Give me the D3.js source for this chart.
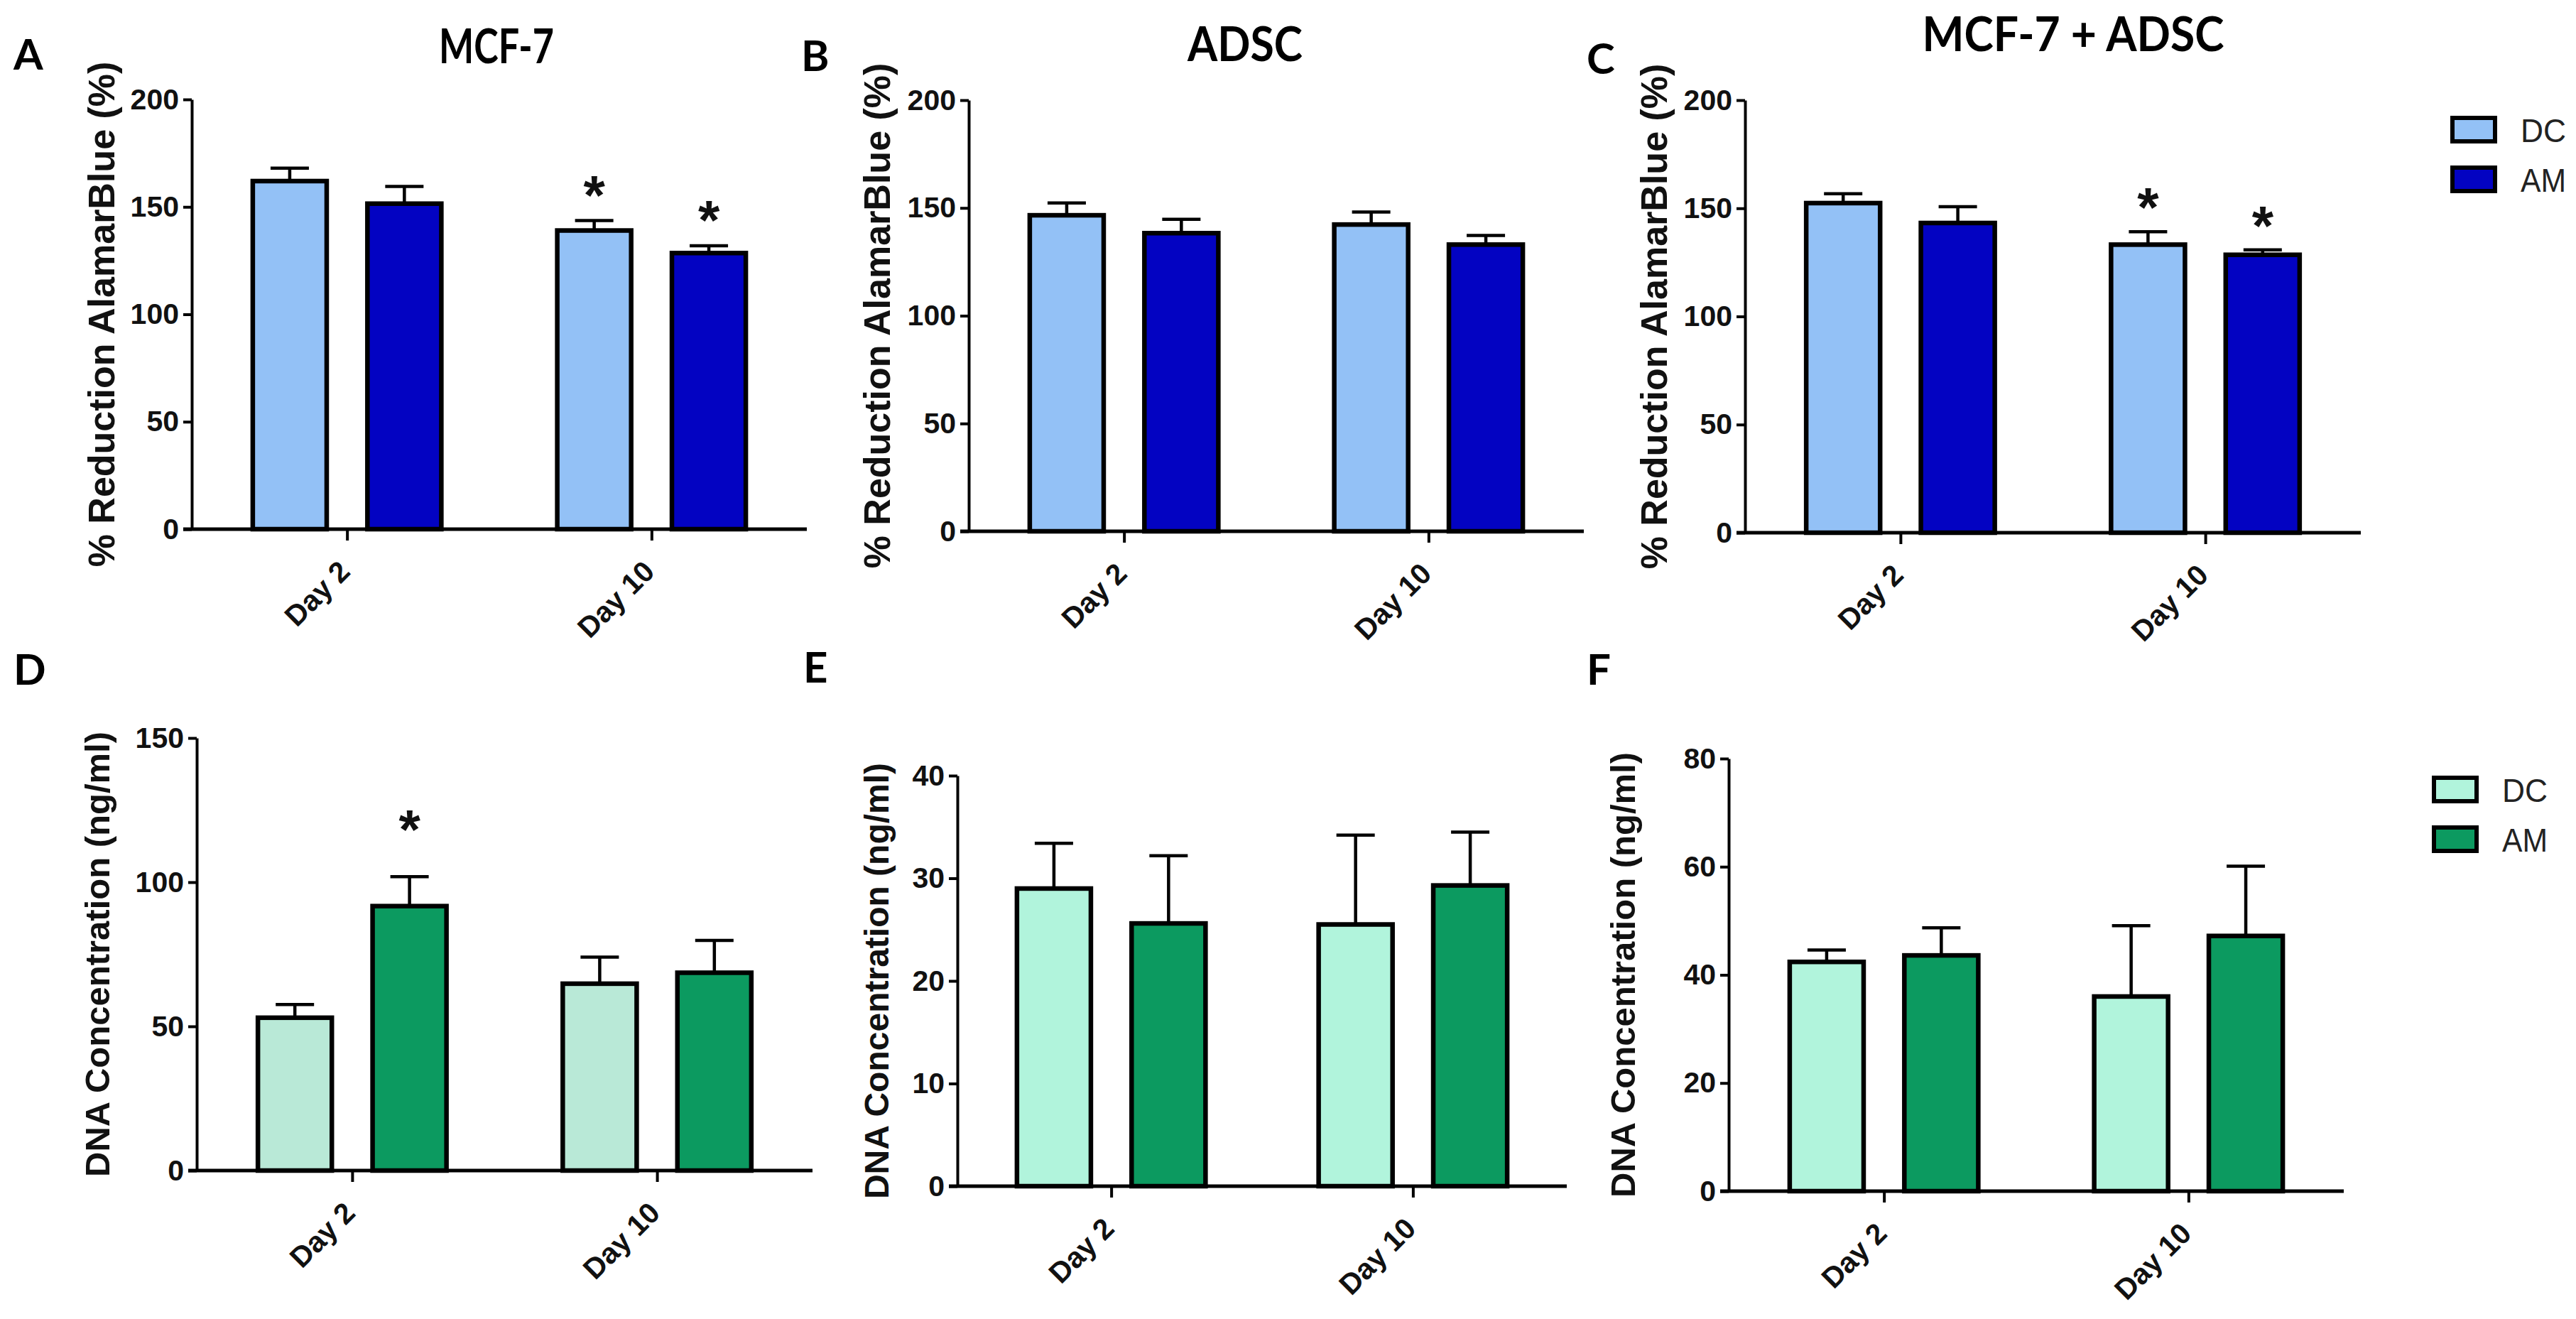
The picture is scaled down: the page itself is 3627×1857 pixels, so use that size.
<!DOCTYPE html>
<html>
<head>
<meta charset="utf-8">
<script src="https://cdn.jsdelivr.net/npm/d3@7"></script>
<style>
  html, body { margin: 0; padding: 0; background: #ffffff; }
  svg { display: block; }
</style>
</head>
<body>
<svg id="chart" width="3627" height="1857"></svg>
<script>
// ---------------- DATA ----------------
const days = ["Day 2", "Day 10"];
const groups = ["DC", "AM"];

// Panel A: MCF-7, % Reduction AlamarBlue
const mcf7AlamarDC = [162, 139];
const mcf7AlamarDCerr = [6, 4.6];
const mcf7AlamarAM = [151.5, 128.5];
const mcf7AlamarAMerr = [8, 3.4];

// Panel B: ADSC
const adscAlamarDC = [146.6, 142.3];
const adscAlamarDCerr = [5.7, 5.8];
const adscAlamarAM = [138.3, 133];
const adscAlamarAMerr = [6.4, 4.2];

// Panel C: MCF-7 + ADSC
const coAlamarDC = [152.4, 133.2];
const coAlamarDCerr = [4.3, 6.0];
const coAlamarAM = [143.2, 128.5];
const coAlamarAMerr = [7.5, 2.3];

// Panel D: MCF-7, DNA concentration (ng/ml)
const mcf7DnaDC = [53, 64.8];
const mcf7DnaDCerr = [4.6, 9.2];
const mcf7DnaAM = [91.7, 68.6];
const mcf7DnaAMerr = [10.2, 11.2];

// Panel E: ADSC
const adscDnaDC = [29.0, 25.5];
const adscDnaDCerr = [4.4, 8.7];
const adscDnaAM = [25.6, 29.3];
const adscDnaAMerr = [6.6, 5.2];

// Panel F: MCF-7 + ADSC
const coDnaDC = [42.4, 36.0];
const coDnaDCerr = [2.2, 13.1];
const coDnaAM = [43.6, 47.2];
const coDnaAMerr = [5.1, 12.9];

// Tick labels
const alamarTicks = [0, 50, 100, 150, 200];
const mcf7DnaTicks = [0, 50, 100, 150];
const adscDnaTicks = [0, 10, 20, 30, 40];
const coDnaTicks = [0, 20, 40, 60, 80];

// Significance markers: [day index, group]
const mcf7AlamarStars = [[1, "DC"], [1, "AM"]];
const coAlamarStars = [[1, "DC"], [1, "AM"]];
const mcf7DnaStars = [[0, "AM"]];

// Text
const titles = ["MCF-7", "ADSC", "MCF-7 + ADSC"];
const alamarLabel = "% Reduction AlamarBlue (%)";
const dnaLabel = "DNA Concentration (ng/ml)";

// ---------------- STYLE / LAYOUT ----------------
const blueColors = { DC: "#93c1f6", AM: "#0303c2" };
const greenColors = { DC: "#b1f4dc", AM: "#0c9a60" };
const greenColorsD = { DC: "#b9e9d7", AM: "#0c9a60" };

const svg = d3.select("#chart");
const LABEL_FONT = "'Liberation Sans', Arial, Helvetica, sans-serif";
const TITLE_FONT = "Lato, 'Open Sans', sans-serif";

const panels = [
  { letter: "A", lx: 19, ly: 98, title: titles[0], tx: 699, ty: 89, tlen: 162,
    x0: 270, x1: 1136, yb: 745, yt: 140, max: 200, ticks: alamarTicks,
    ylabel: alamarLabel, ylx: 142, ylfs: 52, colors: blueColors,
    dc: mcf7AlamarDC, dce: mcf7AlamarDCerr, am: mcf7AlamarAM, ame: mcf7AlamarAMerr,
    stars: mcf7AlamarStars, starOff: 52 },
  { letter: "B", lx: 1128, ly: 100, title: titles[1], tx: 1753, ty: 86, tlen: 162,
    x0: 1364, x1: 2230, yb: 748, yt: 141, max: 200, ticks: alamarTicks,
    ylabel: alamarLabel, ylx: 1234, ylfs: 52, colors: blueColors,
    dc: adscAlamarDC, dce: adscAlamarDCerr, am: adscAlamarAM, ame: adscAlamarAMerr,
    stars: [], starOff: 52 },
  { letter: "C", lx: 2234, ly: 104, title: titles[2], tx: 2919, ty: 72, tlen: 425,
    x0: 2457, x1: 3324, yb: 750, yt: 141, max: 200, ticks: alamarTicks,
    ylabel: alamarLabel, ylx: 2328, ylfs: 52, colors: blueColors,
    dc: coAlamarDC, dce: coAlamarDCerr, am: coAlamarAM, ame: coAlamarAMerr,
    stars: coAlamarStars, starOff: 50 },
  { letter: "D", lx: 19, ly: 964, title: null,
    x0: 277, x1: 1144, yb: 1648, yt: 1039, max: 150, ticks: mcf7DnaTicks,
    ylabel: dnaLabel, ylx: 136, ylfs: 49, colors: greenColorsD,
    dc: mcf7DnaDC, dce: mcf7DnaDCerr, am: mcf7DnaAM, ame: mcf7DnaAMerr,
    stars: mcf7DnaStars, starOff: 82 },
  { letter: "E", lx: 1131, ly: 961, title: null,
    x0: 1348, x1: 2206, yb: 1670, yt: 1092, max: 40, ticks: adscDnaTicks,
    ylabel: dnaLabel, ylx: 1234, ylfs: 48, colors: greenColors,
    dc: adscDnaDC, dce: adscDnaDCerr, am: adscDnaAM, ame: adscDnaAMerr,
    stars: [], starOff: 60 },
  { letter: "F", lx: 2234, ly: 964, title: null,
    x0: 2434, x1: 3300, yb: 1677, yt: 1068, max: 80, ticks: coDnaTicks,
    ylabel: dnaLabel, ylx: 2284, ylfs: 49, colors: greenColors,
    dc: coDnaDC, dce: coDnaDCerr, am: coDnaAM, ame: coDnaAMerr,
    stars: [], starOff: 60 }
];

const BAR_STROKE = 6.5;

panels.forEach(p => {
  const g = svg.append("g");

  const x = d3.scalePoint().domain(days).range([p.x0, p.x1]).padding(0.51);
  const xs = d3.scaleBand().domain(groups).range([-136, 136]).paddingInner(0.315);
  const y = d3.scaleLinear().domain([0, p.max]).range([p.yb, p.yt]);

  const rows = [];
  days.forEach((d, i) => {
    rows.push({ day: d, i, grp: "DC", v: p.dc[i], e: p.dce[i] });
    rows.push({ day: d, i, grp: "AM", v: p.am[i], e: p.ame[i] });
  });

  // error bars (upper only)
  const eb = g.append("g").attr("stroke", "#000").attr("stroke-width", 4.5);
  rows.forEach(r => {
    const cx = x(r.day) + xs(r.grp) + xs.bandwidth() / 2;
    eb.append("line").attr("x1", cx).attr("x2", cx)
      .attr("y1", y(r.v)).attr("y2", y(r.v + r.e));
    eb.append("line").attr("x1", cx - 27).attr("x2", cx + 27)
      .attr("y1", y(r.v + r.e)).attr("y2", y(r.v + r.e));
  });

  // bars
  g.append("g").selectAll("rect").data(rows).join("rect")
    .attr("x", r => x(r.day) + xs(r.grp) + BAR_STROKE / 2)
    .attr("width", xs.bandwidth() - BAR_STROKE)
    .attr("y", r => y(r.v))
    .attr("height", r => y(0) - y(r.v))
    .attr("fill", r => p.colors[r.grp])
    .attr("stroke", "#000")
    .attr("stroke-width", BAR_STROKE);

  // y axis
  const ya = g.append("g").attr("transform", `translate(${p.x0},0)`)
    .call(d3.axisLeft(y).tickValues(p.ticks).tickSize(12).tickSizeOuter(0).tickPadding(6));
  ya.select(".domain").attr("stroke", "#000").attr("stroke-width", 4);
  ya.selectAll(".tick line").attr("stroke", "#000").attr("stroke-width", 4);
  ya.selectAll(".tick text")
    .attr("font-family", LABEL_FONT).attr("font-weight", "bold")
    .attr("font-size", 41).attr("fill", "#111");

  // x axis
  const xa = g.append("g").attr("transform", `translate(0,${p.yb})`)
    .call(d3.axisBottom(x).tickSize(16).tickSizeOuter(0));
  xa.select(".domain").attr("stroke", "#000").attr("stroke-width", 5)
    .attr("d", `M${p.x0 - 12},0H${p.x1}`);
  xa.selectAll(".tick line").attr("stroke", "#000").attr("stroke-width", 4);
  xa.selectAll(".tick text")
    .attr("font-family", LABEL_FONT).attr("font-weight", "bold")
    .attr("font-size", 41).attr("fill", "#111")
    .attr("x", 0).attr("y", 0).attr("dy", 0)
    .attr("text-anchor", "end")
    .attr("transform", "translate(6,62) rotate(-45)");

  // y label
  g.append("text")
    .attr("transform", `translate(${p.ylx},${(p.yb + p.yt) / 2}) rotate(-90)`)
    .attr("text-anchor", "middle").attr("dy", "0.36em")
    .attr("font-family", LABEL_FONT).attr("font-weight", "bold")
    .attr("font-size", p.ylfs).attr("fill", "#111")
    .text(p.ylabel);

  // stars
  p.stars.forEach(([i, grp]) => {
    const cx = x(days[i]) + xs(grp) + xs.bandwidth() / 2;
    const v = grp === "DC" ? p.dc[i] + p.dce[i] : p.am[i] + p.ame[i];
    g.append("text")
      .attr("x", cx).attr("y", y(v) - p.starOff + 43)
      .attr("text-anchor", "middle")
      .attr("font-family", LABEL_FONT).attr("font-weight", "bold")
      .attr("font-size", 78).attr("fill", "#111")
      .text("*");
  });

  // panel letter
  g.append("text").attr("x", p.lx).attr("y", p.ly)
    .attr("font-family", TITLE_FONT).attr("font-weight", "bold")
    .attr("font-size", 60).attr("fill", "#000")
    .text(p.letter);

  // title
  if (p.title) {
    g.append("text").attr("x", p.tx).attr("y", p.ty)
      .attr("text-anchor", "middle")
      .attr("font-family", TITLE_FONT).attr("font-weight", "bold")
      .attr("font-size", 66).attr("fill", "#000")
      .attr("textLength", p.tlen).attr("lengthAdjust", "spacingAndGlyphs")
      .text(p.title);
  }
});

// legends
function legend(colors, bx, by, gap, tx) {
  const lg = svg.append("g");
  groups.forEach((grp, k) => {
    lg.append("rect")
      .attr("x", bx).attr("y", by + k * gap)
      .attr("width", 60).attr("height", 33)
      .attr("fill", colors[grp]).attr("stroke", "#000").attr("stroke-width", 6);
    lg.append("text")
      .attr("x", tx).attr("y", by + k * gap + 34)
      .attr("font-family", LABEL_FONT).attr("font-size", 46).attr("fill", "#222")
      .attr("textLength", 64).attr("lengthAdjust", "spacingAndGlyphs")
      .text(grp);
  });
}
legend(blueColors, 3453, 166, 70, 3549);
legend(greenColors, 3427, 1095, 70, 3523);
</script>
</body>
</html>
